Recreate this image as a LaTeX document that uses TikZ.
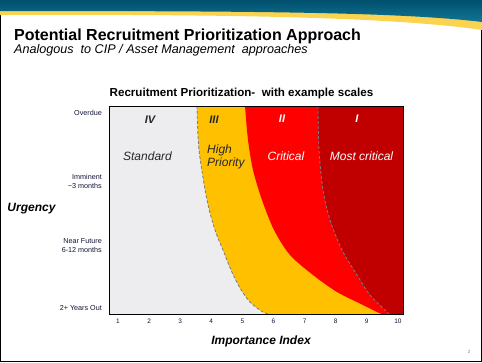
\documentclass[tikz,border=0pt]{standalone}
\usepackage{fontspec}
\setmainfont{Liberation Sans}
\usepackage{xcolor}
\usepackage{tikz}
\usetikzlibrary{positioning}
\definecolor{hdrdark}{RGB}{0,80,110}
\definecolor{hdrteal}{RGB}{16,118,148}
\definecolor{hdrgold}{RGB}{250,212,80}
\definecolor{zonegrey}{RGB}{237,237,240}
\definecolor{zoneamber}{RGB}{255,192,0}
\definecolor{zonered}{RGB}{255,0,0}
\definecolor{zonedark}{RGB}{192,0,0}
\definecolor{edgegrey}{RGB}{115,125,140}
\definecolor{labnavy}{RGB}{15,20,55}

\begin{document}
\begin{tikzpicture}[x=1pt, y=-1pt,
  lab/.style={font=\fontsize{7.2}{9}\selectfont, align=right, anchor=east, text=labnavy, inner sep=0pt},
  tick/.style={font=\fontsize{6.5}{7}\selectfont, text=labnavy, inner sep=0pt},
  numeral/.style={font=\bfseries\itshape\fontsize{11}{12}\selectfont, inner sep=0pt},
  zone/.style={font=\itshape\fontsize{12}{12.5}\selectfont, inner sep=0pt},
  axlab/.style={font=\bfseries\itshape\fontsize{12}{14}\selectfont, inner sep=0pt},
  edge/.style={edgegrey, line width=0.8pt, dash pattern=on 3pt off 2pt}
]
\useasboundingbox (0,0) rectangle (482,362);
\fill[white] (0,0) rectangle (482,362);
\draw[black, line width=1pt] (0.5,0.5) rectangle (481,361);

% header band
\fill[hdrgold] (0,0) -- (482,0) -- (482,30) .. controls (400,18) and (250,14) .. (0,15) -- cycle;
\shade[top color=hdrdark, bottom color=hdrteal] (0,0) -- (482,0) -- (482,22) .. controls (400,12) and (250,11) .. (0,11) -- cycle;

\node[font=\bfseries\fontsize{16}{18}\selectfont, anchor=west, inner sep=0pt] (title) at (14,36) {Potential Recruitment Prioritization Approach};
\node[font=\itshape\fontsize{12.6}{14}\selectfont, anchor=west, inner sep=0pt] (subtitle) at (14,50) {Analogous\ \ to CIP / Asset Management\ \ approaches};

% chart
\node[font=\bfseries\fontsize{11.6}{13}\selectfont, inner sep=0pt] (charttitle) at (241.5,93) {Recruitment Prioritization-\ \ with example scales};

\fill[zonegrey] (109,106) rectangle (403,314);
\begin{scope}
  \clip (109,106) rectangle (403,314);
  \fill[zoneamber] plot[smooth] coordinates {(197,106) (199,150) (207,200) (215,230) (223,250) (231,270) (240,288) (250,302) (263,312) (277,317)} -- (403,317) -- (403,106) -- cycle;
  \fill[zonered] plot[smooth] coordinates {(245,106) (248,140) (253,170) (262,200) (274,230) (290,255) (313,275) (337,292) (363,305) (377,312) (394,319)} -- (403,319) -- (403,106) -- cycle;
  \fill[zonedark] plot[smooth] coordinates {(318,106) (319,150) (323,190) (330,220) (342,250) (357,275) (370,295) (387,312) (397,322)} -- (403,322) -- (403,106) -- cycle;
  \draw[edge] plot[smooth] coordinates {(197,106) (199,150) (207,200) (215,230) (223,250) (231,270) (240,288) (250,302) (263,312) (277,317)};
  \draw[edge] plot[smooth] coordinates {(318,106) (319,150) (323,190) (330,220) (342,250) (357,275) (370,295) (387,312) (397,322)};
\end{scope}
\draw[black, line width=0.9pt] (109,106) rectangle (403,314);

% zone labels
\node[numeral, text=black!85] (nIV) at (150,120) {IV};
\node[numeral, text=black!85] (nIII) at (214,120) {III};
\node[numeral, text=white] (nII) at (282,119) {II};
\node[numeral, text=white] (nI) at (357,119) {I};
\node[zone, text=black!85] (standard) at (147.5,156) {Standard};
\node[zone, text=black!85, align=left, anchor=west] (high) at (207,157) {High\\Priority};
\node[zone, text=white] (critical) at (286,156) {Critical};
\node[zone, text=white] (most) at (361.5,156) {Most critical};

% axes
\node[lab] (overdue) at (102,113) {Overdue};
\node[lab] (imminent) at (102,181.5) {Imminent\\\textasciitilde3 months};
\node[lab] (near) at (102,245.5) {Near Future\\6-12 months};
\node[lab] (years) at (102,308) {2+ Years Out};
\foreach \i in {1,...,10}
  \node[tick] (tick\i) at ({118+(\i-1)*31.1},321) {\i};

\node[axlab] (urgency) at (31.5,209) {Urgency};
\node[axlab] (importance) at (261,341) {Importance Index};

\node[font=\fontsize{4.5}{5}\selectfont, text=gray, inner sep=0pt] (page) at (469,352) {2};
\end{tikzpicture}
\end{document}
